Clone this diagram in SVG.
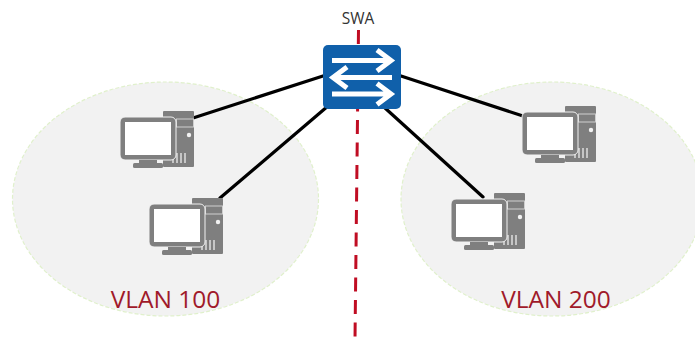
<svg xmlns="http://www.w3.org/2000/svg" xmlns:xlink="http://www.w3.org/1999/xlink" width="695" height="339" viewBox="0 0 695 339">
<style>
text{font-family:"Open Sans","Noto Sans",sans-serif}
.zone{fill:#f2f2f2;stroke:#e0f0cc;stroke-width:1.2;stroke-dasharray:4 2}
.vlan{font-size:24.500px;fill:#a01a2a;text-anchor:middle}
.link{stroke:#000;stroke-width:3.2;fill:none;stroke-linecap:round}
.div{stroke:#c00d23;stroke-width:3;fill:none;stroke-dasharray:14 8.500}
.ar{stroke:#fff;stroke-width:5;fill:none}
.g{fill:#7f7f7f}
</style>
<defs>
<g id="pc">
<rect class="g" x="43" y="1" width="31" height="56" rx="1"/>
<rect class="g" x="56.500" y="9" width="17" height="8" stroke="#d0d0d0" stroke-width="1"/>
<circle cx="69" cy="25" r="2.200" fill="#f2f2f2"/>
<path d="M53 43v10M57 43v10M61 43v10M65 43v10" stroke="#e4e4e4" stroke-width="1.400" fill="none"/>
<rect class="g" x="0" y="7" width="56" height="43" rx="5" stroke="#f2f2f2" stroke-width="1"/>
<rect x="5" y="12" width="46" height="33" fill="#fff"/>
<rect class="g" x="19" y="50" width="18" height="3"/>
<rect class="g" x="13" y="53" width="30" height="5" rx="1.500"/>
</g>
</defs>
<g id="zones">
<ellipse class="zone" cx="165.500" cy="199" rx="153" ry="117"/>
<ellipse class="zone" cx="552" cy="199" rx="151" ry="117"/>
</g>
<g id="connectors">
<path class="div" d="M358.500 30L355 339"/>
<path class="link" d="M323 76L193 118M328 106L220 198M401 76L523 116M385 108L483 197"/>
</g>
<g id="swa">
<rect x="323" y="45" width="78" height="64" rx="5" fill="#1060aa"/>
<path class="ar" d="M332 60.500H390M377 50L391 60.500L377 71"/>
<path class="ar" d="M392 77.500H335M347 67L333 77.500L347 88"/>
<path class="ar" d="M332 94H390M377 83.500L391 94L377 104.500"/>
</g>
<text x="358" y="23.500" font-size="15.500" fill="#333" text-anchor="middle">SWA</text>
<use id="pc1" xlink:href="#pc" x="120" y="110"/>
<use id="pc2" xlink:href="#pc" x="149" y="197"/>
<use id="pc3" xlink:href="#pc" x="522" y="105"/>
<use id="pc4" xlink:href="#pc" x="451" y="192"/>
<text class="vlan" x="165.500" y="307.500">VLAN 100</text>
<text class="vlan" x="556" y="307.500">VLAN 200</text>
</svg>
